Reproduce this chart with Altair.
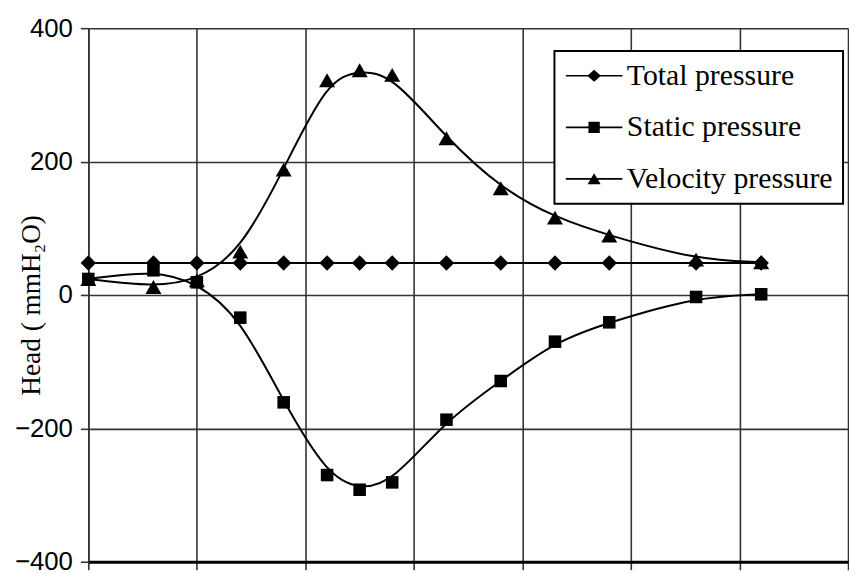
import altair as alt
import pandas as pd

# ---- data ----
x_pos = [0, 0.6, 1.0, 1.4, 1.8, 2.2, 2.5, 2.8, 3.3, 3.8, 4.3, 4.8, 5.6, 6.2]
total = [48, 48, 48, 48, 48, 48, 48, 48, 48, 48, 48, 48, 48, 48]
static = [24, 37, 19, -34, -161, -270, -292, -281, -187, -129, -70, -41, -3, 1]
velocity = [24, 12, 22, 65, 188, 322, 337, 330, 235, 160, 116, 89, 53, 49]
series_names = ["Total pressure", "Static pressure", "Velocity pressure"]
y_ticks = [-400, -200, 0, 200, 400]
x_grid = [0, 1, 2, 3, 4, 5, 6, 7]

rows = []
for name, vals in [("Velocity pressure", velocity), ("Static pressure", static), ("Total pressure", total)]:
    for xv, v in zip(x_pos, vals):
        rows.append({"x": xv, "value": v, "series": name})
df = pd.DataFrame(rows)

legend_paths = [
    "M-4.75,-0.14L4.75,-0.14L4.75,0.14L-4.75,0.14Z M-1.15,0L0,-1L1.15,0L0,1Z",
    "M-4.75,-0.14L4.75,-0.14L4.75,0.14L-4.75,0.14Z M-0.95,-0.95L0.95,-0.95L0.95,0.95L-0.95,0.95Z",
    "M-4.75,-0.14L4.75,-0.14L4.75,0.14L-4.75,0.14Z M0,-0.95L1.1,0.9L-1.1,0.9Z",
]

x_enc = alt.X(
    "x:Q",
    scale=alt.Scale(domain=[0, 7], nice=False, zero=False),
    axis=alt.Axis(values=x_grid, labels=False, title=None, grid=True,
                  gridColor="#333333", gridWidth=1.6, domainColor="black",
                  domainWidth=3, tickColor="#333333", tickWidth=1.6, tickSize=8),
)
y_enc = alt.Y(
    "value:Q",
    scale=alt.Scale(domain=[-400, 400], nice=False),
    axis=alt.Axis(values=y_ticks, title="Head ( mmH₂O)", grid=True,
                  gridColor="#333333", gridWidth=1.6, domainColor="#333333",
                  domainWidth=1.6, tickColor="#333333", tickWidth=1.6, tickSize=8,
                  labelFont="Liberation Sans", labelFontSize=26, labelColor="black",
                  labelPadding=8,
                  titleFont="Liberation Serif", titleFontSize=27.5, titleFontWeight="normal",
                  titleColor="black", titleX=-57, titleY=279, titleAngle=270,
                  titleAlign="center", titleBaseline="middle"),
)

base = alt.Chart(df)

line_total = base.transform_filter(alt.datum.series == "Total pressure").mark_line(
    color="black", strokeWidth=2).encode(x=x_enc, y=y_enc)

line_curves = base.transform_filter(alt.datum.series != "Total pressure").mark_line(
    color="black", strokeWidth=2, interpolate="basis").encode(
    x=x_enc, y=y_enc, detail="series:N")

pts_velocity = base.transform_filter(alt.datum.series == "Velocity pressure").mark_point(
    filled=True, color="black", opacity=1, shape="triangle-up", size=260).encode(x=x_enc, y=y_enc)
pts_static = base.transform_filter(alt.datum.series == "Static pressure").mark_point(
    filled=True, color="black", opacity=1, shape="square", size=160).encode(x=x_enc, y=y_enc)
pts_total = base.transform_filter(alt.datum.series == "Total pressure").mark_point(
    filled=True, color="black", opacity=1, shape="diamond", size=240).encode(x=x_enc, y=y_enc)

legend_layer = base.mark_point(filled=True, color="black", opacity=0).encode(
    x=x_enc, y=y_enc,
    shape=alt.Shape("series:N", scale=alt.Scale(domain=series_names, range=legend_paths),
                    legend=alt.Legend(orient="none", legendX=470, legendY=23, title=None,
                                      strokeColor="black", fillColor="white", padding=10,
                                      rowPadding=22, labelFont="Liberation Serif",
                                      labelFontSize=30, labelColor="black", labelLimit=400,
                                      symbolSize=144, symbolOffset=15, labelOffset=18,
                                      symbolOpacity=1, symbolFillColor="black",
                                      symbolStrokeWidth=0)),
)

chart = alt.layer(line_total, line_curves, pts_velocity, pts_static, pts_total,
                  legend_layer).properties(
    width=766, height=538,
    autosize=alt.AutoSizeParams(type="none"),
    padding={"left": 81, "top": 18, "right": 1, "bottom": 10},
    background="white",
).configure_view(strokeWidth=0).configure_legend(strokeWidth=2)

chart.save("out.html", embed_options={"renderer": "svg", "actions": False})
